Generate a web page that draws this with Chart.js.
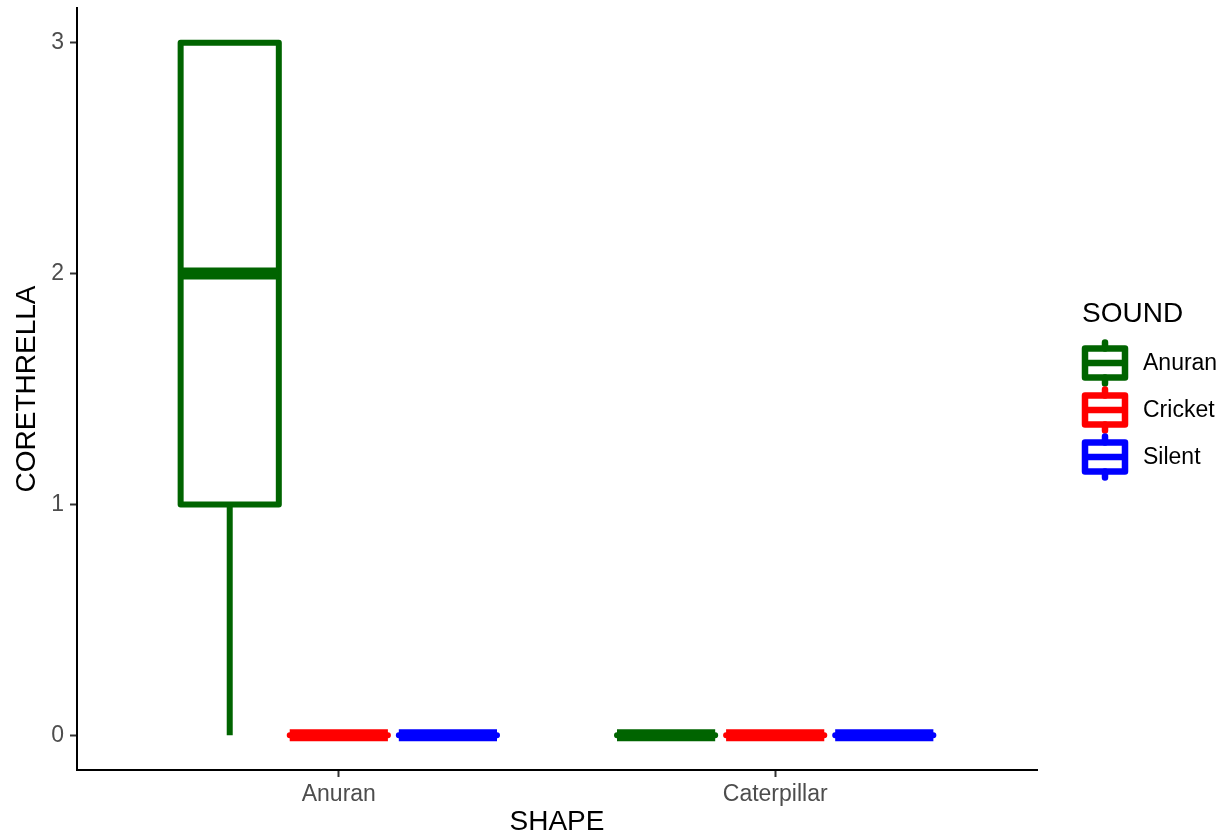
<!DOCTYPE html>
<html>
<head>
<meta charset="utf-8">
<script src="https://cdn.jsdelivr.net/npm/chart.js@4.4.1/dist/chart.umd.min.js"></script>
<style>
  html, body { margin: 0; padding: 0; background: #fff; }
  #wrap { width: 1228px; height: 839px; position: relative; }
</style>
</head>
<body>
<div id="wrap"><canvas id="c" width="1228" height="839"></canvas></div>
<script>
// ---- data ----
const shapes = ['Anuran', 'Caterpillar'];
const sounds = ['Anuran', 'Cricket', 'Silent'];
const soundColors = ['#006400', '#FF0000', '#0000FF'];
const yTicks = [0, 1, 2, 3];

// box statistics per SOUND, one value per SHAPE
const anuranMin = [0, 0], anuranQ1 = [1, 0], anuranMed = [2, 0], anuranQ3 = [3, 0], anuranMax = [3, 0];
const cricketMin = [0, 0], cricketQ1 = [0, 0], cricketMed = [0, 0], cricketQ3 = [0, 0], cricketMax = [0, 0];
const silentMin = [0, 0], silentQ1 = [0, 0], silentMed = [0, 0], silentQ3 = [0, 0], silentMax = [0, 0];

const statSets = [
  [anuranMin, anuranQ1, anuranMed, anuranQ3, anuranMax],
  [cricketMin, cricketQ1, cricketMed, cricketQ3, cricketMax],
  [silentMin, silentQ1, silentMed, silentQ3, silentMax]
];

const DODGE = 0.25, BOXW = 0.225;
const LW = 6;
const FONT = "'Liberation Sans', Arial, sans-serif";

const datasets = sounds.map((s, si) => ({
  label: s,
  color: soundColors[si],
  stats: statSets[si],
  data: shapes.map((_, gi) => ({ x: gi + 1 + (si - 1) * DODGE, y: statSets[si][2][gi] })),
  pointRadius: 0,
  showLine: false
}));

const boxPlugin = {
  id: 'boxes',
  afterDatasetsDraw(chart) {
    const { ctx, scales: { x, y }, chartArea } = chart;
    ctx.save();
    ctx.beginPath();
    ctx.rect(chartArea.left, chartArea.top, chartArea.right - chartArea.left, chartArea.bottom - chartArea.top);
    ctx.clip();
    chart.data.datasets.forEach(ds => {
      const [mn, q1, md, q3, mx] = ds.stats;
      ds.data.forEach((pt, gi) => {
        const x1 = x.getPixelForValue(pt.x - BOXW / 2);
        const x2 = x.getPixelForValue(pt.x + BOXW / 2);
        const xc = x.getPixelForValue(pt.x);
        const yq1 = y.getPixelForValue(q1[gi]), yq3 = y.getPixelForValue(q3[gi]);
        const ymd = y.getPixelForValue(md[gi]);
        const ymn = y.getPixelForValue(mn[gi]), ymx = y.getPixelForValue(mx[gi]);
        ctx.strokeStyle = ds.color;
        ctx.lineWidth = LW;
        ctx.lineCap = 'butt';
        // whiskers
        ctx.beginPath();
        ctx.moveTo(xc, yq1); ctx.lineTo(xc, ymn);
        ctx.moveTo(xc, yq3); ctx.lineTo(xc, ymx);
        ctx.stroke();
        // box
        ctx.fillStyle = '#fff';
        ctx.fillRect(x1, yq3, x2 - x1, yq1 - yq3);
        ctx.lineJoin = 'round';
        ctx.beginPath();
        ctx.rect(x1, yq3, x2 - x1, yq1 - yq3);
        ctx.stroke();
        // median
        ctx.lineWidth = LW * 2;
        ctx.beginPath();
        ctx.moveTo(x1, ymd); ctx.lineTo(x2, ymd);
        ctx.stroke();
      });
    });
    ctx.restore();
  },
  afterDraw(chart) {
    const ctx = chart.ctx;
    ctx.save();
    ctx.fillStyle = '#000';
    ctx.font = `28px ${FONT}`;
    ctx.textBaseline = 'middle';
    ctx.textAlign = 'left';
    ctx.fillText('SOUND', 1082, 314);
    const rowY = [363, 410, 457];
    chart.data.datasets.forEach((ds, i) => {
      const cy = rowY[i];
      const bx1 = 1085, bx2 = 1125, top = cy - 14.5, bot = cy + 14.5;
      ctx.strokeStyle = ds.color;
      ctx.lineWidth = LW + 0.5;
      ctx.lineCap = 'round';
      ctx.beginPath();
      ctx.moveTo(1105, top - 6); ctx.lineTo(1105, top);
      ctx.moveTo(1105, bot); ctx.lineTo(1105, bot + 6);
      ctx.stroke();
      ctx.lineCap = 'butt';
      ctx.lineJoin = 'round';
      ctx.beginPath();
      ctx.rect(bx1, top, bx2 - bx1, bot - top);
      ctx.stroke();
      ctx.beginPath();
      ctx.moveTo(bx1, cy); ctx.lineTo(bx2, cy);
      ctx.stroke();
      ctx.fillStyle = '#000';
      ctx.font = `23px ${FONT}`;
      ctx.fillText(ds.label, 1143, cy + 1);
    });
    ctx.restore();
  }
};

new Chart(document.getElementById('c'), {
  type: 'scatter',
  data: { datasets },
  options: {
    responsive: false,
    animation: false,
    events: [],
    layout: { padding: { top: 8, right: 191, left: 0, bottom: 0 } },
    plugins: { legend: { display: false }, tooltip: { enabled: false } },
    scales: {
      x: {
        type: 'linear',
        min: 0.4, max: 2.6,
        afterBuildTicks: (s) => { s.ticks = shapes.map((_, i) => ({ value: i + 1 })); },
        afterFit: (s) => { s.height = 69; s.paddingLeft = 0; s.paddingRight = 0; },
        ticks: {
          callback: (v) => shapes[v - 1],
          color: '#4D4D4D',
          font: { family: FONT, size: 23 },
          padding: 4,
          maxRotation: 0, autoSkip: false
        },
        grid: { drawOnChartArea: false, drawTicks: true, tickLength: 7, tickColor: '#333333', tickWidth: 2 },
        border: { display: true, color: '#000', width: 2 },
        title: { display: true, text: 'SHAPE', color: '#000', font: { family: FONT, size: 28 }, padding: { top: 0, bottom: 0 } }
      },
      y: {
        type: 'linear',
        min: -0.15, max: 3.15,
        afterBuildTicks: (s) => { s.ticks = yTicks.map(v => ({ value: v })); },
        afterFit: (s) => { s.width = 77; s.paddingTop = 0; s.paddingBottom = 0; },
        ticks: {
          color: '#4D4D4D',
          font: { family: FONT, size: 23 },
          padding: 6
        },
        grid: { drawOnChartArea: false, drawTicks: true, tickLength: 7, tickColor: '#333333', tickWidth: 2 },
        border: { display: true, color: '#000', width: 2 },
        title: { display: true, text: 'CORETHRELLA', color: '#000', font: { family: FONT, size: 28 }, padding: { top: 10, bottom: 0 } }
      }
    }
  },
  plugins: [boxPlugin]
});
</script>
</body>
</html>
